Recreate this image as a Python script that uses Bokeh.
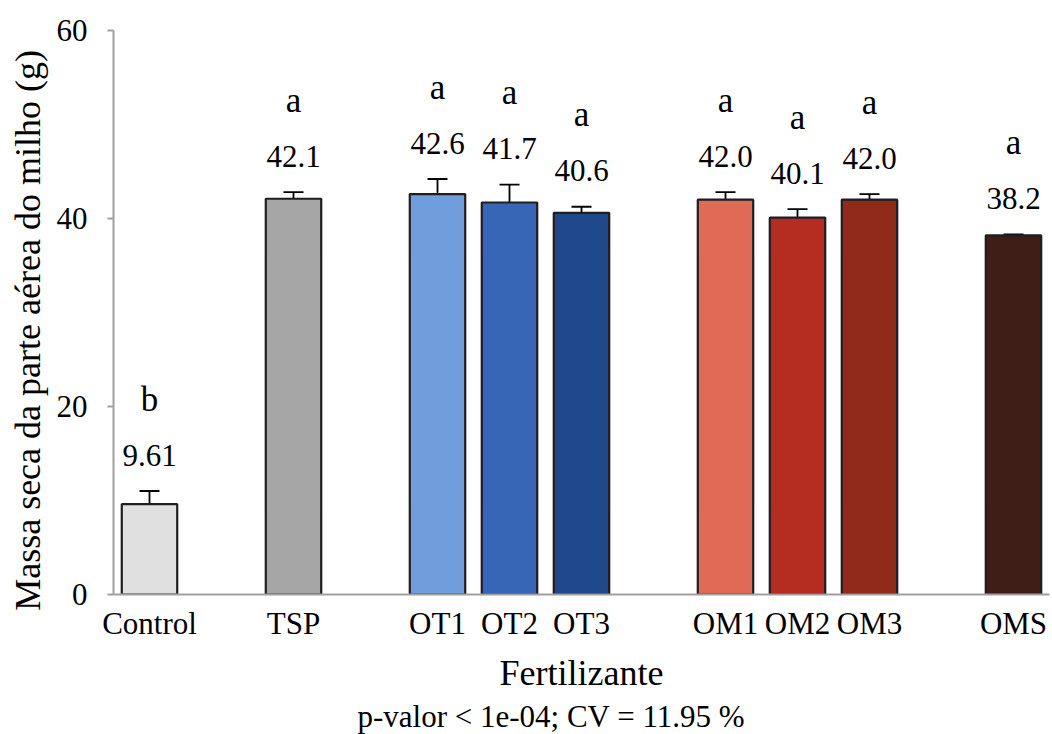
from bokeh.plotting import figure
from bokeh.models import (ColumnDataSource, FactorRange, Range1d, FixedTicker,
                          Whisker, TeeHead, Title)
from bokeh.core.properties import value
from bokeh.embed import file_html
from bokeh.resources import INLINE

# ---- data ----
groups = ["G1", "G2", "G3", "G3", "G3", "G4", "G4", "G4", "G5"]
treatments = ["Control", "TSP", "OT1", "OT2", "OT3", "OM1", "OM2", "OM3", "OMS"]
means = [9.61, 42.1, 42.6, 41.7, 40.6, 42.0, 40.1, 42.0, 38.2]
errors = [1.4, 0.7, 1.6, 1.9, 0.65, 0.8, 0.9, 0.6, 0.1]
value_labels = ["9.61", "42.1", "42.6", "41.7", "40.6", "42.0", "40.1", "42.0", "38.2"]
letters = ["b", "a", "a", "a", "a", "a", "a", "a", "a"]
colors = ["#e0e0e0", "#a6a6a6", "#729ddc", "#3866b6", "#20498c",
          "#e16a57", "#b42d20", "#922a1c", "#3e1e16"]
y_ticks = [0, 20, 40, 60]
note = "p-valor < 1e-04; CV = 11.95 %"

FONT = "Liberation Serif"
NBSP = "\u00a0"

factors = list(zip(groups, treatments))
src = ColumnDataSource(dict(
    x=factors, top=means,
    upper=[m + e for m, e in zip(means, errors)],
    lower=[m - e for m, e in zip(means, errors)],
    vlab=value_labels, let=letters, color=colors,
))

xr = FactorRange(*factors, factor_padding=0.0, group_padding=1.0, range_padding=0.0)

p = figure(width=1052, height=734, x_range=xr, y_range=Range1d(0, 60),
           output_backend="svg", toolbar_location=None,
           min_border_left=113, min_border_right=3, min_border_top=30,
           min_border_bottom=0)
p.outline_line_color = None
p.grid.visible = False
p.background_fill_color = "white"
p.border_fill_color = "white"

p.vbar(x="x", top="top", width=0.77, source=src, fill_color="color",
       line_color="#1e1e1e", line_width=2.2)

w = Whisker(source=src, base="x", upper="upper", lower="lower",
            line_color="black", line_width=1.8,
            upper_head=TeeHead(size=20, line_color="black", line_width=1.8),
            lower_head=TeeHead(size=20, line_color="black", line_width=1.8))
p.add_layout(w)

p.text(x="x", y="upper", text="vlab", source=src, text_font=value(FONT),
       text_font_size="31px", text_align="center", text_baseline="alphabetic",
       y_offset=-36, text_color="black")
p.text(x="x", y="upper", text="let", source=src, text_font=value(FONT),
       text_font_size="35px", text_align="center", text_baseline="alphabetic",
       y_offset=-92, text_color="black")

# y axis
ya = p.yaxis[0]
ya.ticker = FixedTicker(ticks=y_ticks)
ya.axis_label = "Massa seca da parte aérea do milho (g)" + NBSP * 4
ya.axis_label_text_font = FONT
ya.axis_label_text_font_size = "36px"
ya.axis_label_text_font_style = "normal"
ya.axis_label_text_color = "black"
ya.axis_label_standoff = 6
ya.major_label_text_font = FONT
ya.major_label_text_font_size = "31px"
ya.major_label_text_color = "black"
ya.major_label_standoff = 20
ya.axis_line_color = "#a0a0a0"
ya.axis_line_width = 2
ya.major_tick_line_color = "#a0a0a0"
ya.major_tick_line_width = 2
ya.major_tick_out = 6
ya.major_tick_in = 0
ya.minor_tick_line_color = None

# x axis
xa = p.xaxis[0]
xa.axis_label = "Fertilizante"
xa.axis_label_text_font = FONT
xa.axis_label_text_font_size = "36px"
xa.axis_label_text_font_style = "normal"
xa.axis_label_text_color = "black"
xa.axis_label_standoff = 9
xa.major_label_text_font = FONT
xa.major_label_text_font_size = "31px"
xa.major_label_text_color = "black"
xa.major_label_standoff = 5
xa.group_text_font_size = "0px"
xa.group_text_color = None
xa.separator_line_color = None
xa.axis_line_color = "#a0a0a0"
xa.axis_line_width = 2
xa.major_tick_line_color = None
xa.minor_tick_line_color = None

p.add_layout(Title(text=note, align="left", offset=244, standoff=2,
                   text_font=FONT, text_font_size="31px", text_font_style="normal",
                   text_color="black"), "below")

open("out.html", "w").write(file_html(p, INLINE))
